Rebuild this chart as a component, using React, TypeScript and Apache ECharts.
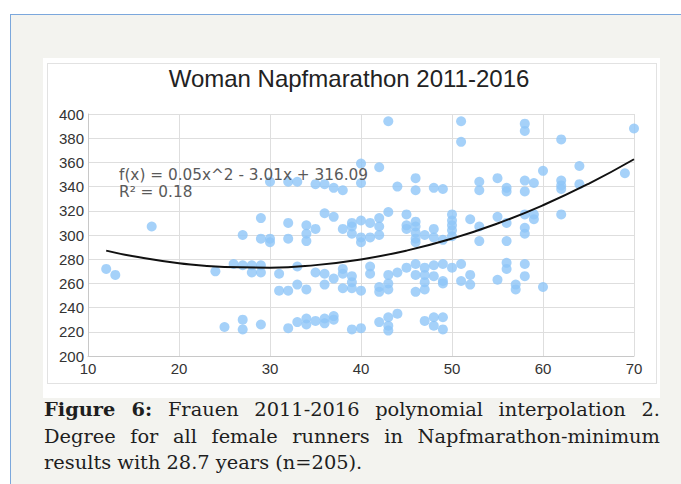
import React, { useEffect, useRef } from "react";
import * as echarts from "echarts";

const chartTitle = "Woman Napfmarathon 2011-2016";
const equationLine = "f(x) = 0.05x^2 - 3.01x + 316.09";
const r2Line = "R² = 0.18";

const xTicks = { min: 10, max: 70, interval: 10 };
const yTicks = { min: 200, max: 400, interval: 20 };

// ages (x) and the finishing times (y) read for each age
const ageGroups = [12, 13, 17, 24, 25, 26, 27, 28, 29, 30, 31, 32, 33, 34, 35, 36, 37, 38, 39, 40, 41, 42, 43, 44, 45, 46, 47, 48, 49, 50, 51, 52, 53, 55, 56, 57, 58, 59, 60, 62, 64, 69, 70];
const timesByAge = [
  [272],
  [267],
  [307],
  [270],
  [224],
  [276],
  [300, 275, 230, 222],
  [275, 269],
  [314, 297, 275, 269, 226],
  [344, 297, 294],
  [268, 254],
  [344, 310, 297, 254, 223],
  [344, 274, 259, 228],
  [308, 301, 295, 255, 231, 226],
  [342, 305, 269, 229],
  [342, 318, 268, 259, 231, 227],
  [339, 315, 264, 233, 230],
  [337, 305, 272, 268, 256],
  [310, 307, 301, 266, 261, 256, 222],
  [359, 343, 312, 298, 294, 254, 223],
  [310, 298, 274, 268],
  [356, 314, 307, 300, 257, 253, 228],
  [394, 319, 267, 260, 255, 232, 225, 221],
  [340, 269, 235],
  [317, 308, 305, 273],
  [347, 337, 311, 307, 302, 297, 294, 276, 267, 253],
  [300, 273, 267, 261, 255, 229],
  [339, 305, 298, 275, 266, 232, 225],
  [338, 296, 276, 262, 260, 232, 222],
  [317, 312, 308, 304, 299, 273],
  [394, 377, 276, 262],
  [313, 267, 259],
  [344, 337, 307, 295],
  [347, 315, 263],
  [339, 336, 310, 295, 277, 272],
  [259, 255],
  [392, 386, 345, 336, 317, 306, 301, 276, 266],
  [343, 317, 313],
  [353, 257],
  [379, 345, 341, 338, 317],
  [357, 342],
  [351],
  [388],
];

// trend curve
const curveAges = [12, 15, 20, 25, 30, 35, 40, 45, 50, 55, 60, 65, 70];
const curveTimes = [287.1, 282.4, 276.7, 273.5, 273.0, 275.1, 279.8, 287.1, 297.0, 309.5, 324.6, 342.3, 362.6];

const captionBold = "Figure 6:";
const captionLine1 = " Frauen 2011-2016 polynomial interpolation 2.";
const captionLine2 = "Degree for all female runners in Napfmarathon-minimum";
const captionLine3 = "results with 28.7 years (n=205).";

export default function App() {
  const ref = useRef<HTMLDivElement>(null);

  useEffect(() => {
    if (!ref.current) return;
    const chart = echarts.init(ref.current, null, { renderer: "svg" });
    const points: number[][] = [];
    ageGroups.forEach((a, i) => {
      timesByAge[i].forEach((t) => points.push([a, t]));
    });
    const curve = curveAges.map((a, i) => [a, curveTimes[i]]);

    chart.setOption({
      animation: false,
      backgroundColor: "transparent",
      grid: { left: 88, top: 114, right: 47, bottom: 128, containLabel: false },
      xAxis: {
        type: "value",
        min: xTicks.min,
        max: xTicks.max,
        interval: xTicks.interval,
        axisLine: { show: true, lineStyle: { color: "#c8c8c8", width: 1 } },
        axisTick: { show: false },
        axisLabel: {
          margin: 5,
          fontFamily: "Liberation Sans, Arial, sans-serif",
          fontSize: 15,
          color: "#333",
        },
        splitLine: { show: true, lineStyle: { color: "#dedede", width: 1 } },
      },
      yAxis: {
        type: "value",
        min: yTicks.min,
        max: yTicks.max,
        interval: yTicks.interval,
        axisLine: { show: true, lineStyle: { color: "#c8c8c8", width: 1 } },
        axisTick: { show: false },
        axisLabel: {
          margin: 4,
          fontFamily: "Liberation Sans, Arial, sans-serif",
          fontSize: 15,
          color: "#333",
        },
        splitLine: { show: true, lineStyle: { color: "#dedede", width: 1 } },
      },
      series: [
        {
          type: "scatter",
          data: points,
          symbol: "circle",
          symbolSize: 10,
          itemStyle: { color: "#8ec5f8" },
          z: 2,
        },
        {
          type: "line",
          data: curve,
          smooth: true,
          symbol: "none",
          lineStyle: { color: "#111", width: 2 },
          z: 3,
        },
      ],
      graphic: [
        {
          type: "text",
          x: 349,
          y: 78,
          style: {
            text: chartTitle,
            fontFamily: "Liberation Sans, Arial, sans-serif",
            fontSize: 24,
            fill: "#222",
            textAlign: "center",
            textVerticalAlign: "middle",
          },
        },
        {
          type: "text",
          x: 119,
          y: 175,
          z: 10,
          style: {
            text: equationLine,
            fontFamily: "DejaVu Sans, sans-serif",
            fontSize: 15.3,
            fill: "#5a5a5a",
            textAlign: "left",
            textVerticalAlign: "middle",
          },
        },
        {
          type: "text",
          x: 119,
          y: 192,
          z: 10,
          style: {
            text: r2Line,
            fontFamily: "DejaVu Sans, sans-serif",
            fontSize: 15.3,
            fill: "#5a5a5a",
            textAlign: "left",
            textVerticalAlign: "middle",
          },
        },
      ],
    });
    return () => chart.dispose();
  }, []);

  const lineStyle: React.CSSProperties = {
    textAlign: "justify",
    textAlignLast: "justify" as any,
    whiteSpace: "nowrap",
    height: 26.5,
  };

  return (
    <div
      style={{
        position: "fixed",
        left: 0,
        top: 0,
        width: 681,
        height: 484,
        overflow: "hidden",
        background: "#ffffff",
      }}
    >
      <div
        style={{
          position: "absolute",
          left: 10,
          top: 14,
          width: 681,
          height: 480,
          background: "#f3f3ef",
          borderLeft: "1.5px solid #7ba7dc",
          borderTop: "1.5px solid #7ba7dc",
        }}
      />
      <div
        style={{
          position: "absolute",
          left: 43,
          top: 58,
          width: 617,
          height: 340,
          background: "#ffffff",
        }}
      />
      <div
        style={{
          position: "absolute",
          left: 47,
          top: 63,
          width: 608,
          height: 319,
          border: "1px solid #e2e2e2",
        }}
      />
      <div
        ref={ref}
        style={{ position: "absolute", left: 0, top: 0, width: 681, height: 484 }}
      />
      <div
        style={{
          position: "absolute",
          left: 44,
          top: 397,
          width: 616,
          fontFamily: "DejaVu Serif, serif",
          fontSize: 19.4,
          lineHeight: "26.5px",
          color: "#1e1e1e",
        }}
      >
        <div style={lineStyle}>
          <b>{captionBold}</b>
          {captionLine1}
        </div>
        <div style={lineStyle}>{captionLine2}</div>
        <div style={{ height: 26.5, whiteSpace: "nowrap" }}>{captionLine3}</div>
      </div>
    </div>
  );
}
